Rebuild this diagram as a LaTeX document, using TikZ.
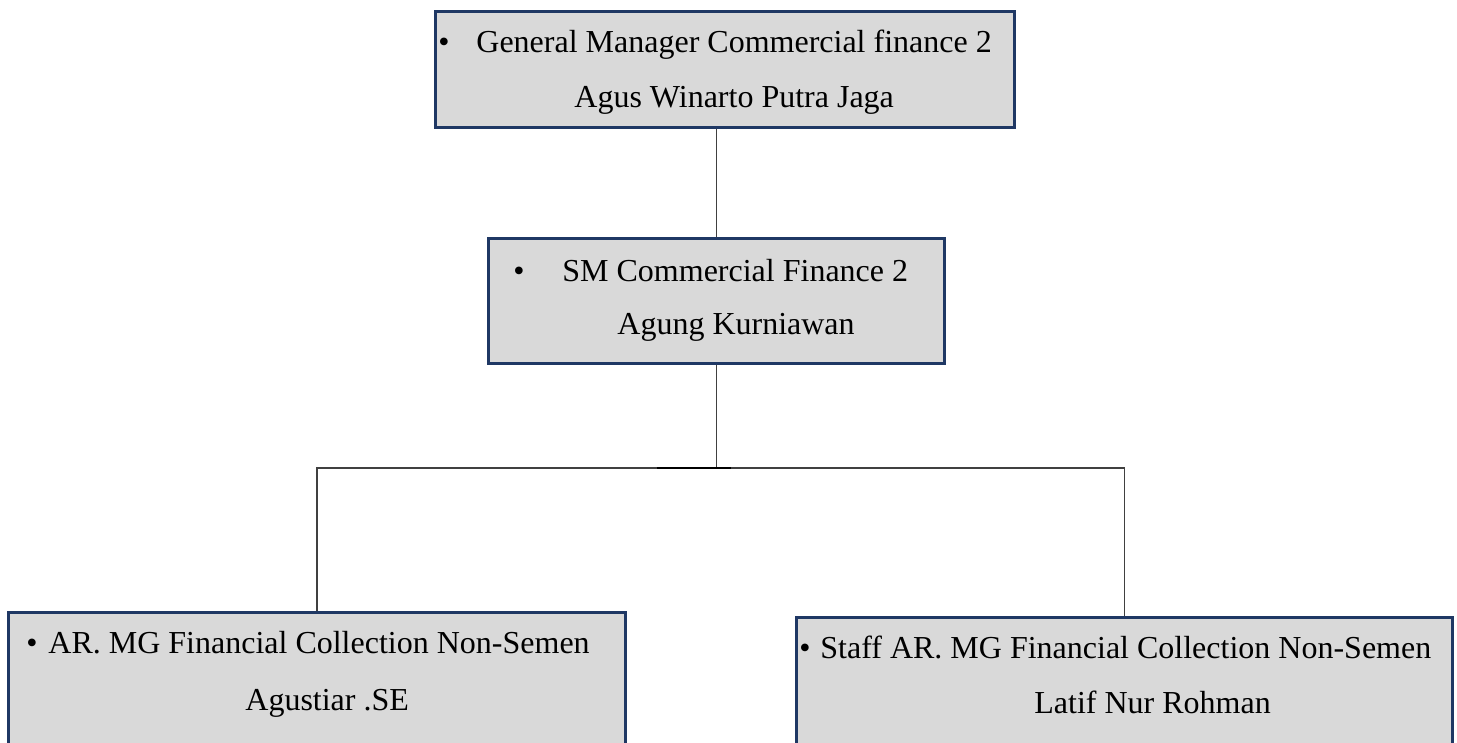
\documentclass[tikz,border=0pt]{standalone}
\usepackage{fontspec}
\setmainfont{Liberation Serif}
\usetikzlibrary{positioning}
\definecolor{boxfill}{HTML}{D9D9D9}
\definecolor{boxline}{HTML}{1F3864}
\definecolor{linkgray}{HTML}{404040}
\tikzset{
  orgbox/.style={draw=boxline, fill=boxfill, line width=1.5pt, rectangle, inner sep=0pt},
  txt/.style={inner sep=0pt, anchor=base west, font=\fontsize{16}{19}\selectfont},
  dot/.style={inner sep=0pt, anchor=base, font=\fontsize{16}{19}\selectfont},
  link/.style={draw=linkgray, line width=0.75pt}
}
\begin{document}
\begin{tikzpicture}[x=0.5pt,y=-0.5pt]
\useasboundingbox (0,0) rectangle (1457,743);
% boxes
\node[orgbox, minimum width=289.5pt, minimum height=58pt] (gm) at (724.5,70) {};
\node[orgbox, minimum width=228pt, minimum height=62.5pt] (sm) at (716.5,301.5) {};
\node[orgbox, minimum width=308.5pt, minimum height=72pt, anchor=north west] (arl) at (7,611) {};
\node[orgbox, minimum width=328pt, minimum height=70pt, anchor=north west] (arr) at (795,616) {};
% texts
\node[dot] (gm-b) at (444,53) {•};
\node[txt] (gm-t) at (476,53) {General Manager Commercial finance 2};
\node[txt] (gm-n) at (574,108) {Agus Winarto Putra Jaga};
\node[dot] (sm-b) at (519,282) {•};
\node[txt] (sm-t) at (562,282) {SM Commercial Finance 2};
\node[txt] (sm-n) at (617,335) {Agung Kurniawan};
\node[dot] (arl-b) at (32,653) {•};
\node[txt] (arl-t) at (48,653) {AR. MG Financial Collection Non-Semen};
\node[txt] (arl-n) at (245,710) {Agustiar .SE};
\node[dot] (arr-b) at (805,658) {•};
\node[txt] (arr-t) at (820,658) {Staff AR. MG Financial Collection Non-Semen};
\node[txt] (arr-n) at (1034,713) {Latif Nur Rohman};
% connectors
\coordinate (bus) at (sm.south |- 0,468);
\draw[link] (sm.north) -- (sm.north |- gm.south);
\draw[link] (sm.south) -- (bus);
\draw[link] (arl.north) |- (bus) -| (arr.north);
\draw[line width=1pt, black] ([xshift=-30pt]bus) -- ([xshift=7pt]bus);
\end{tikzpicture}
\end{document}
